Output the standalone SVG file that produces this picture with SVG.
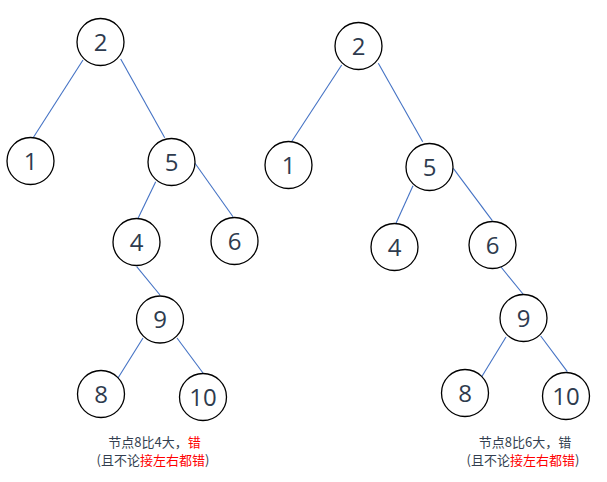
<svg xmlns="http://www.w3.org/2000/svg" width="607" height="482" viewBox="0 0 607 482">
<style>
.n circle{fill:#fff;stroke:#000;stroke-width:1.3}
.n text{font-family:"Open Sans","Liberation Sans",sans-serif;font-size:24px;fill:#2E3B4E;text-anchor:middle}
.e line{stroke:#4472C4;stroke-width:1.1}
.cap{font-family:"Noto Sans CJK SC","Noto Sans",sans-serif;font-size:13px;fill:#333F50;text-anchor:middle}
.red{fill:#FF0000}
</style>
<rect width="607" height="482" fill="#fff"/>
<g id="connectors" class="e">
<line x1="83" y1="60" x2="33" y2="138"/>
<line x1="120.7" y1="59" x2="164.7" y2="137.7"/>
<line x1="155.7" y1="181.7" x2="137.7" y2="219"/>
<line x1="195" y1="163.3" x2="233" y2="216.7"/>
<line x1="136.7" y1="266.7" x2="160" y2="295"/>
<line x1="143" y1="338" x2="118" y2="378"/>
<line x1="177" y1="338" x2="203" y2="373"/>
<line x1="341.7" y1="65" x2="290.7" y2="143"/>
<line x1="378.3" y1="63.3" x2="422.7" y2="141.7"/>
<line x1="413" y1="185.7" x2="396" y2="223.3"/>
<line x1="453.3" y1="168.3" x2="492.3" y2="220.7"/>
<line x1="501" y1="267" x2="523" y2="294"/>
<line x1="506" y1="337" x2="481.7" y2="376.7"/>
<line x1="540.7" y1="336" x2="567.3" y2="371.7"/>
</g>
<g id="L2" class="n"><circle cx="100.5" cy="42" r="23.5"/><text x="100.5" y="50.5">2</text></g>
<g id="L1" class="n"><circle cx="30.5" cy="161" r="23.5"/><text x="30.5" y="169.5">1</text></g>
<g id="L5" class="n"><circle cx="171.5" cy="162" r="23.5"/><text x="171.5" y="170.5">5</text></g>
<g id="L4" class="n"><circle cx="136.5" cy="242" r="23.5"/><text x="136.5" y="250.5">4</text></g>
<g id="L6" class="n"><circle cx="234.5" cy="241" r="23.5"/><text x="234.5" y="249.5">6</text></g>
<g id="L9" class="n"><circle cx="160" cy="319.5" r="23.5"/><text x="160" y="328">9</text></g>
<g id="L8" class="n"><circle cx="101" cy="394" r="23.5"/><text x="101" y="402.5">8</text></g>
<g id="L10" class="n"><circle cx="203" cy="397" r="23.5"/><text x="203" y="405.5">10</text></g>
<g id="R2" class="n"><circle cx="358.5" cy="46" r="23.5"/><text x="358.5" y="54.5">2</text></g>
<g id="R1" class="n"><circle cx="288.5" cy="165" r="23.5"/><text x="288.5" y="173.5">1</text></g>
<g id="R5" class="n"><circle cx="429.5" cy="167" r="23.5"/><text x="429.5" y="175.5">5</text></g>
<g id="R4" class="n"><circle cx="394.5" cy="247" r="23.5"/><text x="394.5" y="255.5">4</text></g>
<g id="R6" class="n"><circle cx="492.5" cy="245" r="23.5"/><text x="492.5" y="253.5">6</text></g>
<g id="R9" class="n"><circle cx="523.5" cy="318" r="23.5"/><text x="523.5" y="326.5">9</text></g>
<g id="R8" class="n"><circle cx="465" cy="393" r="23.5"/><text x="465" y="401.5">8</text></g>
<g id="R10" class="n"><circle cx="566" cy="396" r="23.5"/><text x="566" y="404.5">10</text></g>
<g id="captions">
<text class="cap" x="154.5" y="447">节点8比4大，<tspan class="red">错</tspan></text>
<text class="cap" x="153" y="465">(且不论<tspan class="red">接左右都错</tspan>)</text>
<text class="cap" x="525" y="447">节点8比6大，错</text>
<text class="cap" x="523" y="465">(且不论<tspan class="red">接左右都错</tspan>)</text>
</g>
</svg>
